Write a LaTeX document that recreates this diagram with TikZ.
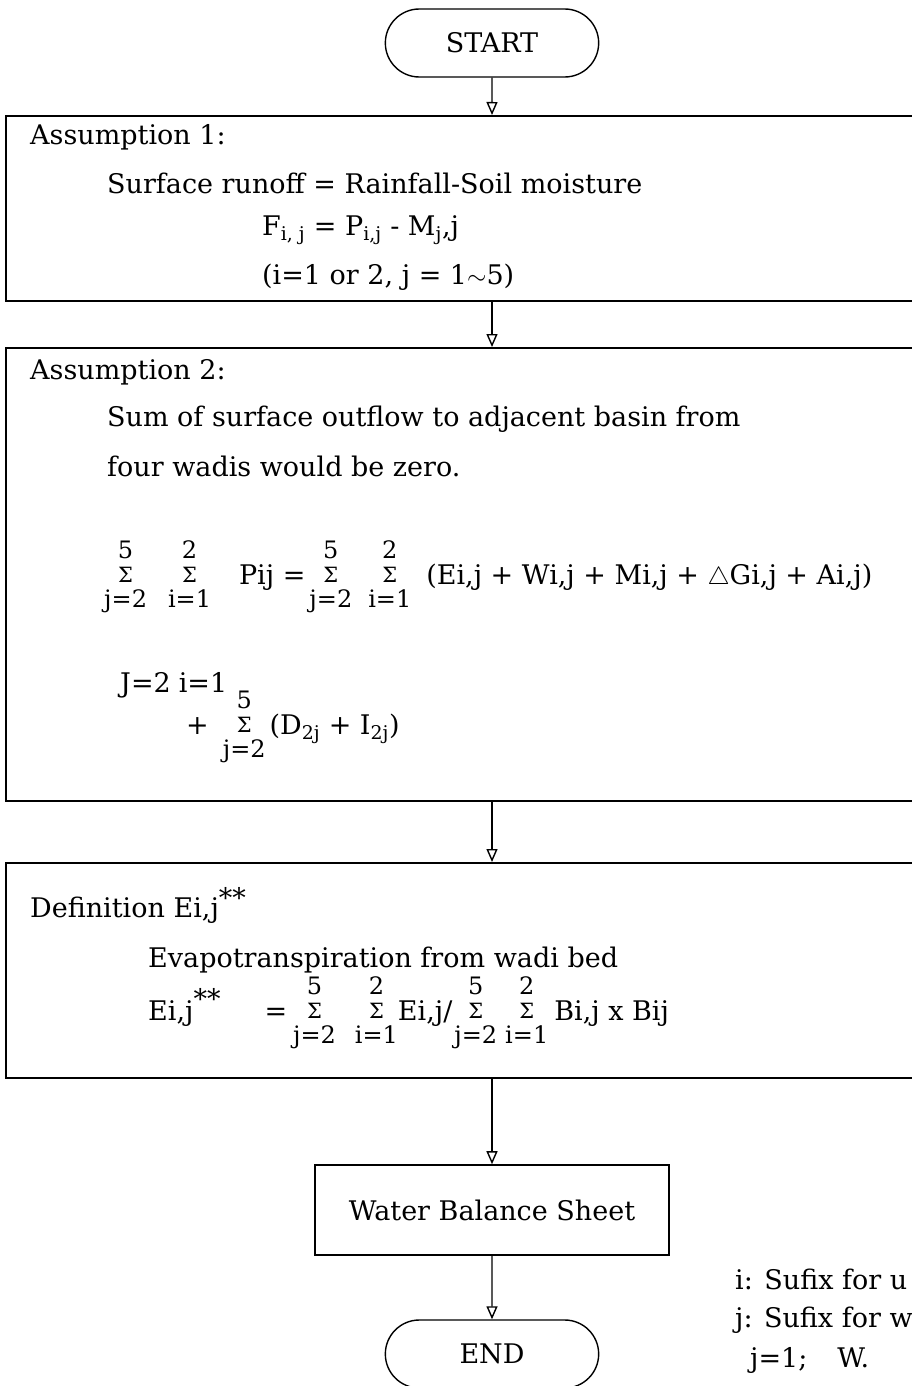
\documentclass[tikz,border=0pt]{standalone}
\usepackage{fontspec}
\setmainfont{DejaVu Serif}
\usetikzlibrary{arrows.meta,shapes.misc}

% stacked sum sign: #1 lower limit, #2 upper limit
\newcommand{\ssum}[2]{%
  {\fontsize{24}{28}\selectfont\renewcommand{\arraystretch}{0.85}%
   \begin{tabular}[c]{@{}c@{}}#2\\{\fontsize{21}{21}\selectfont Σ}\\#1\end{tabular}}}

\begin{document}
\begin{tikzpicture}[x=1pt,y=-1pt,
  term/.style={draw, rounded rectangle, minimum width=220pt, minimum height=68pt,
    line width=1.4pt, font=\fontsize{27}{32}\selectfont},
  procbox/.style={draw, rectangle, anchor=north west, line width=1.6pt, inner sep=0pt},
  txt/.style={anchor=west, inner sep=0pt, font=\fontsize{27}{32}\selectfont},
  flow/.style={-{Triangle[open,length=13pt,width=11pt]}, line width=1.4pt}]

\useasboundingbox (0,0) rectangle (912,1386);
\clip (0,0) rectangle (912,1386);

% ===== TERMINALS AND BOXES =====
\node[term] (start) at (492,43) {START};
\node[procbox, minimum width=930pt, minimum height=185pt] (asm1) at (5,115) {};
\node[procbox, minimum width=930pt, minimum height=453pt] (asm2) at (5,347) {};
\node[procbox, minimum width=930pt, minimum height=215pt] (defn) at (5,862) {};
\node[draw, line width=1.6pt, minimum width=354pt, minimum height=90pt,
  font=\fontsize{27}{32}\selectfont] (wbs) at (492,1210) {Water Balance Sheet};
\node[term] (stop) at (492,1354) {END};

% ===== ASSUMPTION 1 =====
\node[txt] (a1head) at (30,137) {Assumption 1:};
\node[txt] (a1rule) at (107,183) {Surface runoff = Rainfall-Soil moisture};
\node[txt] (a1eq) at (262,230) {F\textsubscript{i, j} = P\textsubscript{i,j} - M\textsubscript{j},j};
\node[txt] (a1rng) at (262,277) {(i=1 or 2, j = 1$\sim$5)};

% ===== ASSUMPTION 2 =====
\node[txt] (a2head) at (30,372) {Assumption 2:};
\node[txt] (a2line1) at (107,419) {Sum of surface outflow to adjacent basin from};
\node[txt] (a2line2) at (107,466) {four wadis would be zero.};
\node[txt] (a2sum) at (104,578) {\ssum{j=2}{5}\hspace{21pt}\ssum{i=1}{2}\hspace{28pt}Pij
  =\hspace{4pt}\ssum{j=2}{5}\hspace{16pt}\ssum{i=1}{2}\hspace{15pt}(Ei,j + Wi,j + Mi,j + $\triangle$Gi,j + Ai,j)};
\node[txt] (a2lim) at (120,685) {J=2\hspace{8pt}i=1};
\node[txt] (a2rest) at (186,728) {+\hspace{14pt}\ssum{j=2}{5}\hspace{4pt}(D\textsubscript{2j} + I\textsubscript{2j})};

% ===== DEFINITION =====
\node[txt] (dhead) at (30,905) {Definition Ei,j\raisebox{10pt}{**}};
\node[txt] (dtext) at (148,960) {Evapotranspiration from wadi bed};
\node[txt] (deq) at (148,1014) {Ei,j\raisebox{12pt}{**}\hspace{44pt}=\hspace{6pt}\ssum{j=2}{5}\hspace{19pt}\ssum{i=1}{2}Ei,j/\hspace{2pt}%
  \ssum{j=2}{5}\hspace{8pt}\ssum{i=1}{2}\hspace{6pt}Bi,j x Bij};

% ===== NOTES =====
\node[txt] (note1) at (735,1279) {i: Sufix for u};
\node[txt] (note2) at (735,1320) {j: Sufix for w};
\node[txt] (note3) at (750,1360) {j=1;\hspace{30pt}W.};

% ===== CONNECTIONS =====
\draw[flow] (start) -- (start |- asm1.north);
\draw[flow] (start |- asm1.south) -- (start |- asm2.north);
\draw[flow] (start |- asm2.south) -- (start |- defn.north);
\draw[flow] (start |- defn.south) -- (wbs);
\draw[flow] (wbs) -- (stop);

\end{tikzpicture}
\end{document}
